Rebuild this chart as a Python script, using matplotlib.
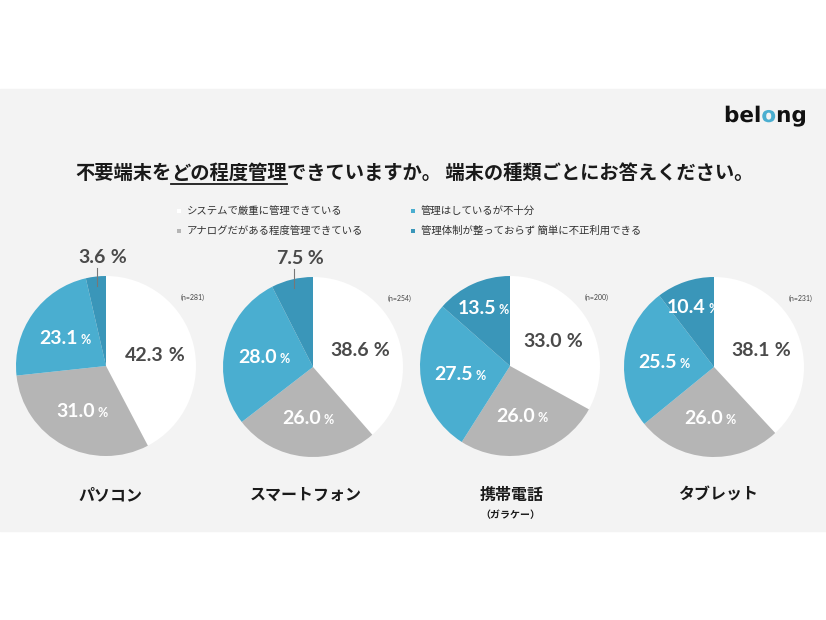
import matplotlib
matplotlib.use("Agg")
import matplotlib.pyplot as plt
import numpy as np
from matplotlib.patches import Rectangle, PathPatch
from matplotlib.textpath import TextPath
from matplotlib.font_manager import FontProperties

# data
devices = ["パソコン", "スマートフォン", "携帯電話", "タブレット"]
device_notes = ["", "", "（ガラケー）", ""]
sample_sizes = [281, 254, 200, 231]
strict = [42.3, 38.6, 33.0, 38.1]
partial = [31.0, 26.0, 26.0, 26.0]
insufficient = [23.1, 28.0, 27.5, 25.5]
unmanaged = [3.6, 7.5, 13.5, 10.4]
legend_labels = ["システムで厳重に管理できている", "アナログだがある程度管理できている",
                 "管理はしているが不十分", "管理体制が整っておらず 簡単に不正利用できる"]
colors = ["#ffffff", "#b5b5b5", "#4aaed0", "#3a96b9"]

JP = ["Noto Sans CJK JP", "DejaVu Sans"]
NUM = ["Lato", "DejaVu Sans"]
W, H = 826, 620
DARK = "#4a4a4a"

fig = plt.figure(figsize=(W / 100, H / 100), dpi=100)
ax = fig.add_axes([0, 0, 1, 1])
fig.patch.set_facecolor("white")

# grey panel (pixel rows 89..531)
ax.add_patch(Rectangle((0, H - 531), W, 531 - 89, color="#f3f3f3", zorder=0))

renderer = fig.canvas.get_renderer()


def py(y):
    return H - y


def runs(x, y, parts, align="center"):
    """draw text pieces on one baseline, return list of (text, x0, x1)"""
    texts = [ax.text(0, y, s, ha="left", va="baseline", **kw) for s, kw in parts]
    widths = [t.get_window_extent(renderer).width for t in texts]
    total = sum(widths)
    cur = x - total / 2 if align == "center" else x
    out = []
    for t, w in zip(texts, widths):
        t.set_x(cur)
        out.append((t, cur, cur + w))
        cur += w
    return out


# logo as text paths, the "o" strip drawn in blue
lp = FontProperties(family="DejaVu Sans", weight="bold")
x0, base = 724, py(122)
word = TextPath((x0, base), "belong", size=21.5, prop=lp)
xa = TextPath((x0, base), "bel", size=21.5, prop=lp).get_extents().x1 + 0.6
xb = TextPath((x0, base), "belo", size=21.5, prop=lp).get_extents().x1 + 0.6
for c0, c1, col in [(x0 - 5, xa, "#111111"), (xa, xb, "#4aaed0"), (xb, x0 + 120, "#111111")]:
    pp = PathPatch(word, facecolor=col, edgecolor="none", lw=0)
    ax.add_patch(pp)
    clip = Rectangle((c0, py(140)), c1 - c0, 50, transform=ax.transData,
                     facecolor="none", edgecolor="none")
    pp.set_clip_path(clip)

# title with underline
tkw = dict(fontsize=13.9, fontweight="bold", family=JP, color="#1a1a1a")
pieces = runs(414, py(179), [("不要端末を", tkw), ("どの程度管理", tkw),
                             ("できていますか。 端末の種類ごとにお答えください。", tkw)])
_, ux0, ux1 = pieces[1]
ax.plot([ux0, ux1], [py(183.5), py(183.5)], color="#1a1a1a", lw=1.3)

# legend
leg_pos = [(179, 211), (179, 231), (413, 211), (413, 231)]
for (lx, ly), lab, c in zip(leg_pos, legend_labels, colors):
    ax.scatter([lx], [py(ly)], marker="s", s=12, color=c, linewidths=0, zorder=3)
    ax.text(lx + 8, py(ly), lab, fontsize=7.5, family=JP, color="#333333",
            ha="left", va="center")

centers = [(106, 366), (313, 367), (510, 366), (714, 367)]
R = 90


def pct_label(x, yc, value, color, small_pct):
    size = 14
    base = yc - 0.36 * size * 100 / 72
    kw = dict(fontsize=size, fontweight="bold", family=NUM, color=color)
    pk = dict(kw, fontsize=9 if small_pct else size)
    runs(x, base, [(f"{value:.1f}", kw), (" %", pk)])


for i, (cx, cy) in enumerate(centers):
    vals = [strict[i], partial[i], insufficient[i], unmanaged[i]]
    c = (cx, py(cy))
    wedges, _ = ax.pie(vals, colors=colors, startangle=90, counterclock=False,
                       center=c, radius=R, frame=True,
                       wedgeprops=dict(linewidth=0))
    for k, (w, v) in enumerate(zip(wedges, vals)):
        mid = np.deg2rad((w.theta1 + w.theta2) / 2)
        if v < 10:
            lx = c[0] + 0.9 * R * np.cos(mid)
            ax.plot([lx, lx], [c[1] + 0.9 * R * np.sin(mid), c[1] + 1.09 * R],
                    color="#777777", lw=0.8)
            pct_label(lx + 6, c[1] + 1.22 * R, v, DARK, False)
            continue
        d = 0.56 if k < 3 else 0.72
        tx = c[0] + d * R * np.cos(mid)
        ty = c[1] + d * R * np.sin(mid)
        pct_label(tx, ty, v, DARK if k == 0 else "white", k != 0)
    ax.text(cx + 87, py(cy - 69), f"(n={sample_sizes[i]})", fontsize=5,
            family=NUM, color="#444444", ha="center", va="center")

# pie() resets limits, so set them afterwards
ax.set_xlim(0, W)
ax.set_ylim(0, H)
ax.set_aspect("equal")
ax.axis("off")

cat_x = [110, 306, 512, 718]
for x, name, note in zip(cat_x, devices, device_notes):
    ax.text(x, py(495), name, fontsize=11.5, fontweight="bold", family=JP,
            color="#1a1a1a", ha="center", va="center")
    if note:
        ax.text(x - 2, py(515), note, fontsize=7.2, fontweight="bold", family=JP,
                color="#1a1a1a", ha="center", va="center")

fig.savefig("out.png", dpi=100)
